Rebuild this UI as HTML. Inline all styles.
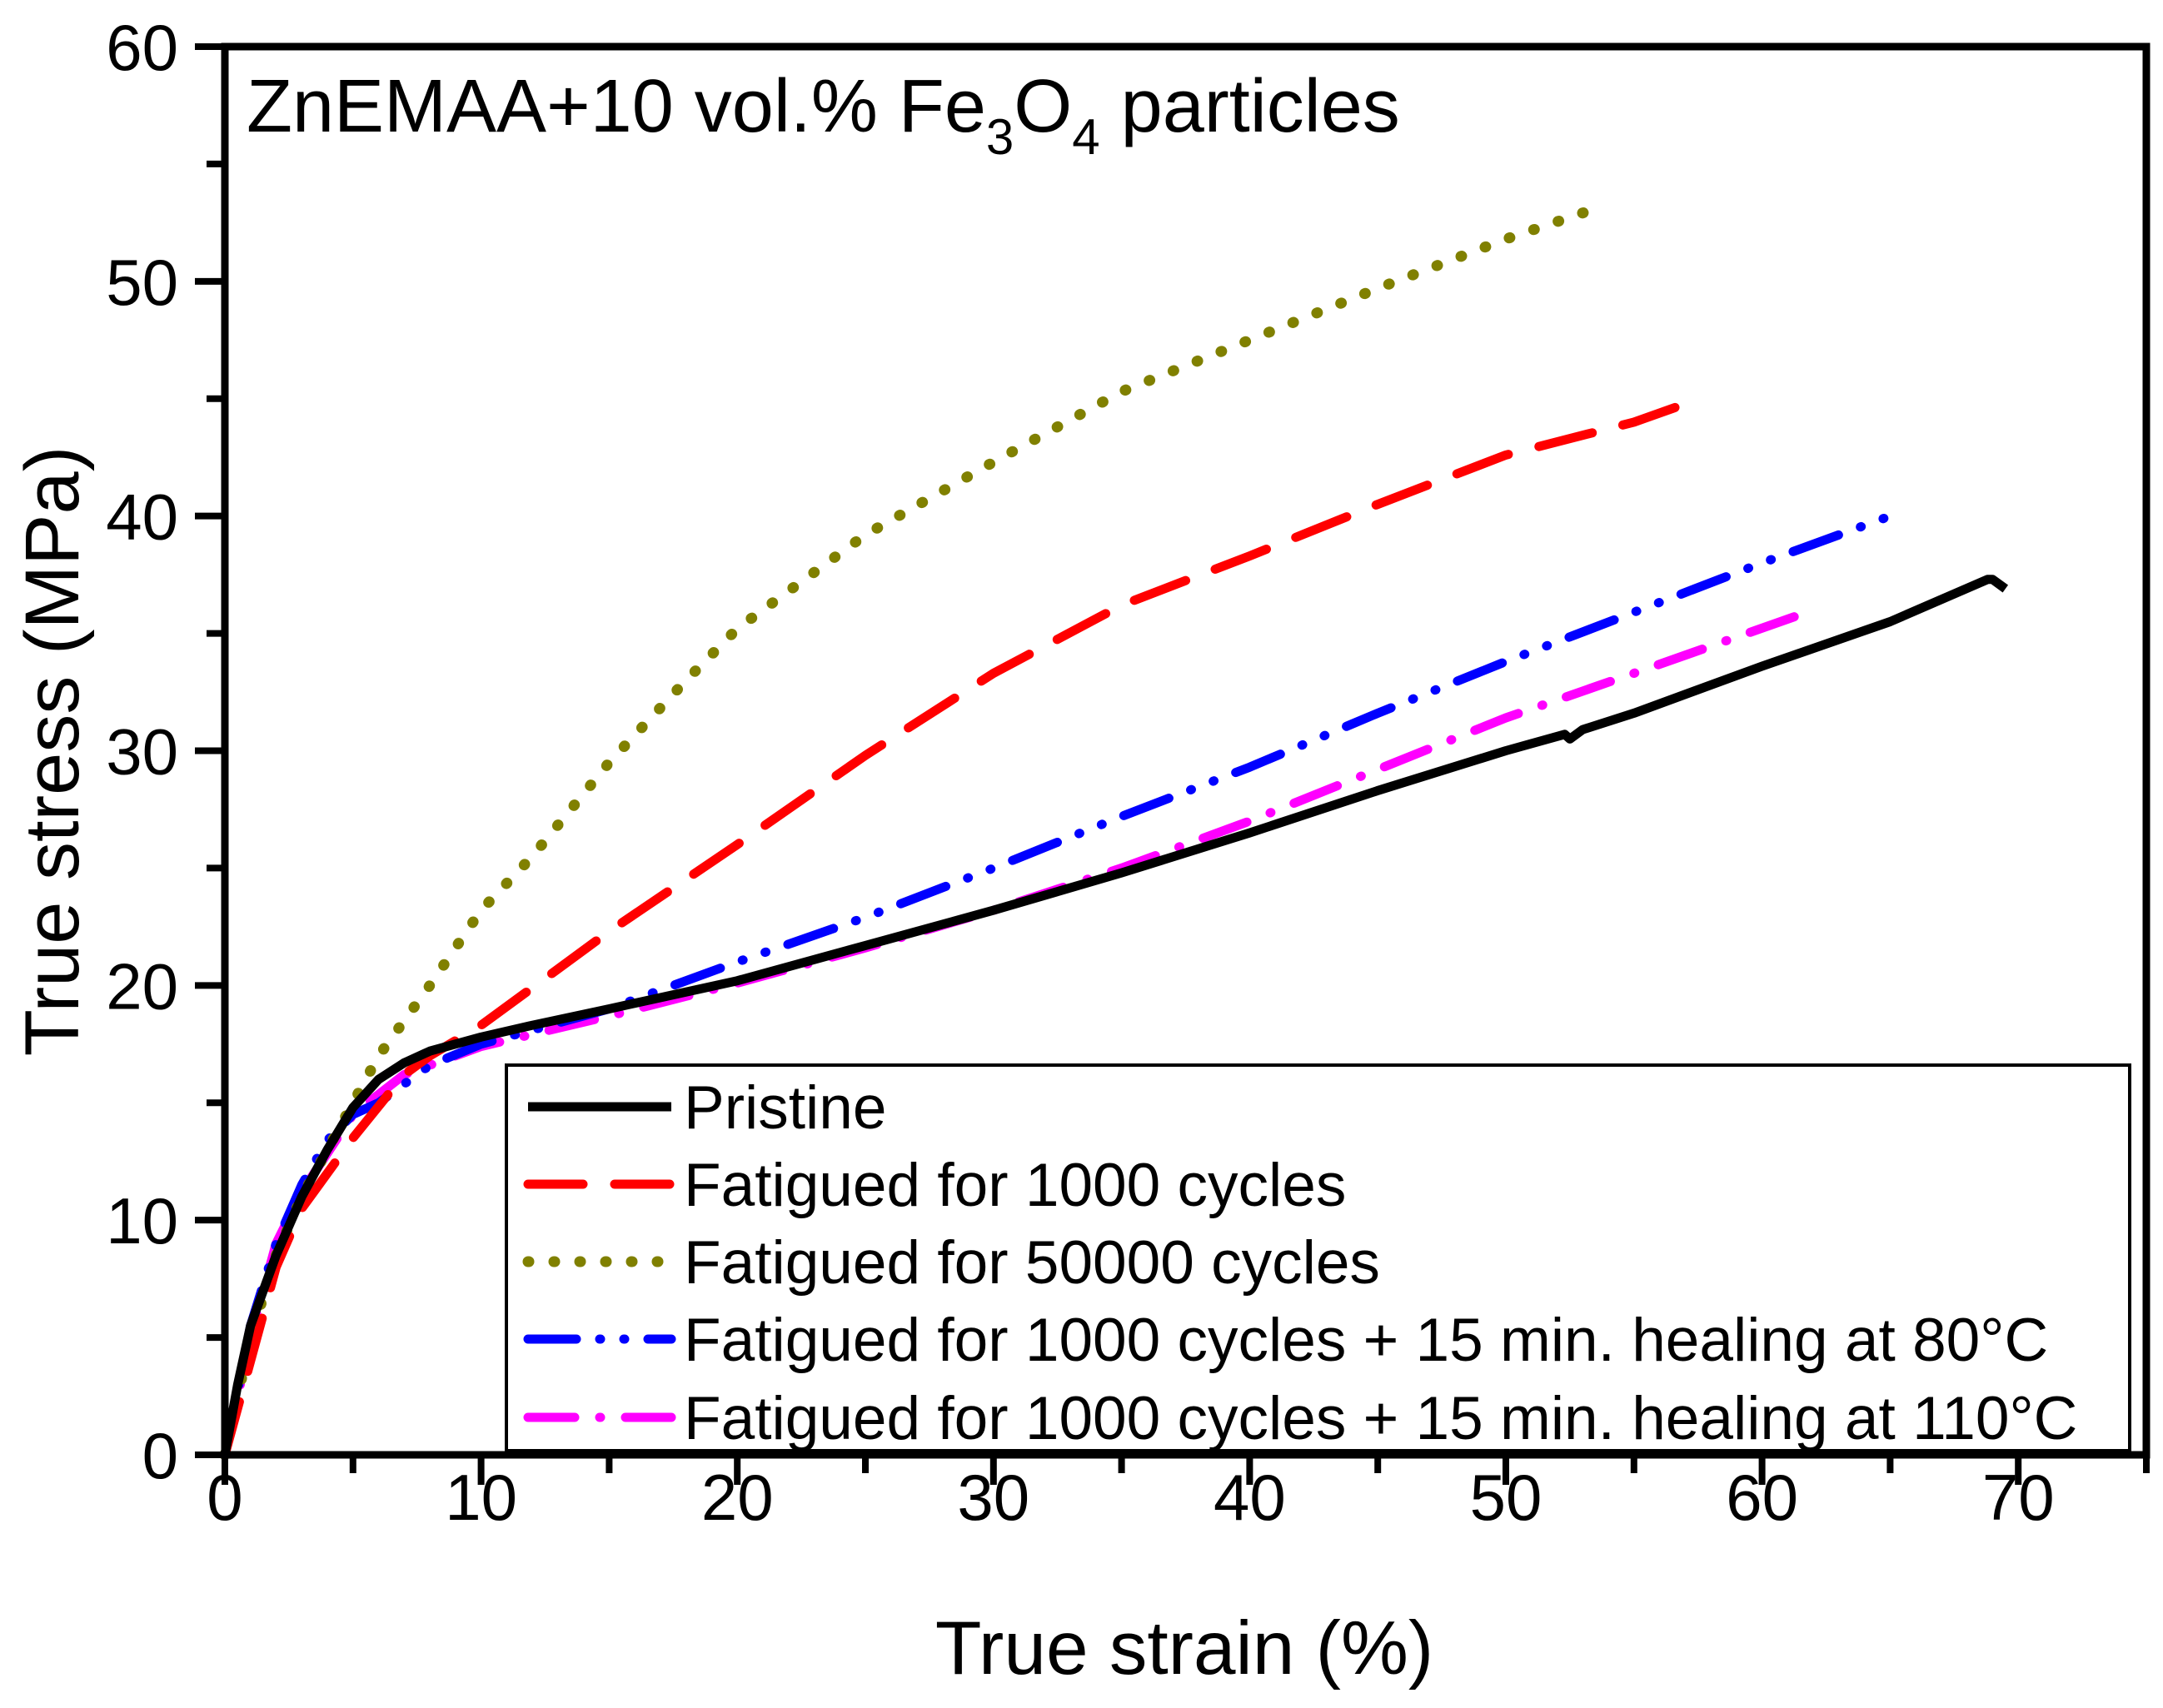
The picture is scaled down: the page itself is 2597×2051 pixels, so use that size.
<!DOCTYPE html>
<html><head><meta charset="utf-8">
<style>
html,body{margin:0;padding:0;background:#fff;}
svg{display:block;font-family:"Liberation Sans",Arial,sans-serif;}
</style></head>
<body>
<svg id="chart" width="2597" height="2051" viewBox="0 0 2597 2051" xmlns="http://www.w3.org/2000/svg">
<rect width="2597" height="2051" fill="#fff"/>
<g id="series"></g>
<g id="axes"></g>
<text x="296" y="158" font-size="90">ZnEMAA+10 vol.% Fe<tspan font-size="60" dy="27">3</tspan><tspan dy="-27">O</tspan><tspan font-size="60" dy="27">4</tspan><tspan dy="-27"> particles</tspan></text>
<text x="1422" y="2010" font-size="91" text-anchor="middle">True strain (%)</text>
<text transform="translate(94,902) rotate(-90)" font-size="92" text-anchor="middle">True stress (MPa)</text>
<g id="legend"></g>
</svg>
<script>
const xTicks=[0,10,20,30,40,50,60,70];
const yTicks=[0,10,20,30,40,50,60];
const seriesNames=["Pristine","Fatigued for 1000 cycles","Fatigued for 50000 cycles","Fatigued for 1000 cycles + 15 min. healing at 80°C","Fatigued for 1000 cycles + 15 min. healing at 110°C"];
const pristineX=[0,0.5,1,2,3,4,5,6,7,8,10,12,15,20,25,30,35,40,45,50,52.3,52.5,53,55,60,65,68.8,69,69.5];
const pristineY=[0,3,5.5,8.5,11,13,14.8,16,16.7,17.2,17.8,18.3,19,20.2,21.7,23.2,24.8,26.5,28.3,30,30.7,30.5,30.9,31.6,33.6,35.5,37.3,37.3,36.9];
const f1000X=[0,1,2,3,5,7,8,10,15,20,25,30,35,40,45,50,55,56.8];
const f1000Y=[0,4,8,10.5,13.5,16.2,17,18.3,22.3,26,29.8,33.3,36.2,38.3,40.5,42.6,44,44.7];
const f50000X=[0,1,2,3,5,6,8,10,12,15,18,20,25,30,35,40,45,50,53.5];
const f50000Y=[0,5,8.5,11,15,17,20,23.2,25.5,29.5,33,35.2,39.2,42.3,45.3,47.5,49.7,51.8,53.1];
const h80X=[0,1,2,3,4,5,6,8,10,15,20,25,30,35,40,45,50,55,60,65];
const h80Y=[0,5.5,9,11.5,13.4,14.5,15,16.6,17.5,19,21,22.9,25,27.2,29.3,31.6,33.8,35.9,38,40];
const h110X=[0,1,2,3,5,7,10,15,20,25,30,35,40,45,50,55,61.5];
const h110Y=[0,5,9,11.2,14.5,16.2,17.4,18.7,20.1,21.6,23.2,25,27,29.2,31.4,33.3,35.8];

const L=270,R=2577,T=56,B=1747,XMAX=75,YMAX=60;
const sx=v=>L+v*(R-L)/XMAX;
const sy=v=>B-v*(B-T)/YMAX;
const NS="http://www.w3.org/2000/svg";
function mk(tag,attrs,parent){const e=document.createElementNS(NS,tag);for(const k in attrs)e.setAttribute(k,attrs[k]);parent.appendChild(e);return e;}

const styles=[
 {c:"#000000",d:""},
 {c:"#ff0000",d:"66 38"},
 {c:"#808000",d:"1 30"},
 {c:"#0000ff",d:"58 28 1 28 1 28"},
 {c:"#ff00ff",d:"56 30 1 30"}
];
const sets=[[pristineX,pristineY],[f1000X,f1000Y],[f50000X,f50000Y],[h80X,h80Y],[h110X,h110Y]];
const sg=document.getElementById('series');
const keys=["pristine","fatigued-1000","fatigued-50000","healed-80c","healed-110c"];
[4,3,2,1,0].forEach(i=>{
  const [xs,ys]=sets[i];
  const d=xs.map((x,j)=>(j?"L":"M")+sx(x).toFixed(1)+","+sy(ys[j]).toFixed(1)).join(" ");
  const p=mk('path',{d:d,fill:"none",stroke:styles[i].c,"stroke-width":i==2?13:11,"stroke-linecap":i==0?"butt":"round","stroke-linejoin":"round"},sg);
  if(styles[i].d)p.setAttribute('stroke-dasharray',styles[i].d);
  
  
});

const ag=document.getElementById('axes');
const frame=mk('rect',{x:L,y:T,width:R-L,height:B-T,fill:"none",stroke:"#000","stroke-width":9},ag);


for(let v=0;v<=XMAX;v+=5){
  const major=v%10===0;
  const t=mk('line',{x1:sx(v),x2:sx(v),y1:B,y2:B+(major?36:22),stroke:"#000","stroke-width":8},ag);
  
  
}
xTicks.forEach(v=>{
  const t=mk('text',{x:sx(v),y:1825,"font-size":78,"text-anchor":"middle"},ag);
  t.textContent=v;
  
  
});
for(let v=0;v<=YMAX;v+=5){
  const major=v%10===0;
  const t=mk('line',{x1:L,x2:L-(major?36:22),y1:sy(v),y2:sy(v),stroke:"#000","stroke-width":8},ag);
  
  
}
yTicks.forEach(v=>{
  const t=mk('text',{x:214,y:sy(v)+28,"font-size":78,"text-anchor":"end"},ag);
  t.textContent=v;
  
  
});

const lg=document.getElementById('legend');
const box=mk('rect',{x:608,y:1279,width:1949,height:463,fill:"#fff",stroke:"#000","stroke-width":4},lg);


const rows=[1329,1422,1515,1608,1702];
seriesNames.forEach((n,i)=>{
  const g=mk('g',{},lg);
  
  
  const ln=mk('line',{x1:634,x2:806,y1:rows[i],y2:rows[i],stroke:styles[i].c,"stroke-width":i==2?13:11,"stroke-linecap":i==0?"butt":"round"},g);
  if(styles[i].d)ln.setAttribute('stroke-dasharray',styles[i].d);
  
  
  const t=mk('text',{x:821,y:rows[i]+26,"font-size":73},g);
  t.textContent=n;
  
  
});
</script>
</body></html>
